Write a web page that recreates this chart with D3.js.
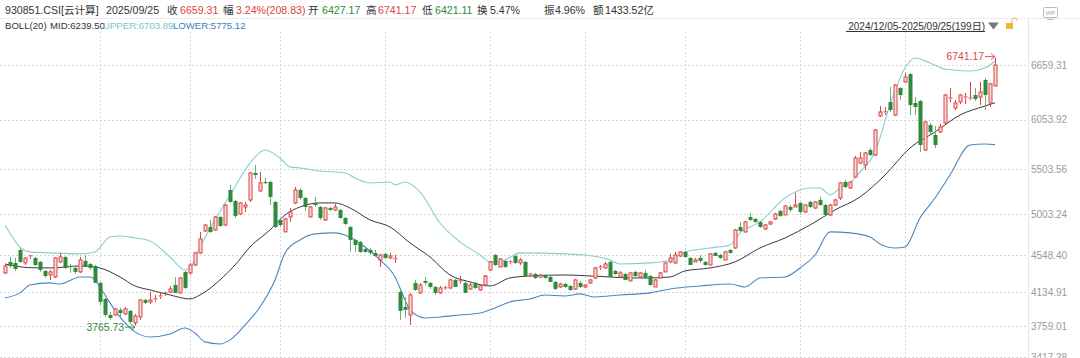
<!DOCTYPE html>
<html><head><meta charset="utf-8">
<script src="https://cdn.jsdelivr.net/npm/d3@7"></script>
<style>
body{margin:0;background:#fff;}
svg{display:block;font-family:"Liberation Sans","Helvetica Neue",Arial,"Noto Sans CJK SC",sans-serif;}
</style></head>
<body><svg id="c" width="1080" height="358"></svg>
<script>
// ---------- data ----------
const opens = [4351,4473,4462,4606,4462,4528,4517,4473,4373,4328,
4306,4473,4528,4428,4406,4362,4484,4450,4428,4240,
4062,3884,3884,3940,3895,3929,3796,3862,4051,4029,
4051,4084,4118,4140,4217,4129,4362,4351,4439,4573,
4817,4861,4828,4972,4883,5272,5150,5006,5083,5161,
5461,5261,5361,5361,5139,4939,4806,4972,5128,5272,
5183,4972,5128,5083,4939,5072,5050,5050,4961,4861,
4717,4695,4617,4606,4573,4495,4562,4517,4495,4140,
3973,3884,4240,4129,4262,4240,4195,4129,4173,4184,
4273,4251,4240,4173,4240,4162,4217,4384,4550,4417,
4484,4462,4539,4462,4473,4328,4339,4306,4328,4306,
4251,4195,4228,4206,4173,4240,4195,4240,4295,4406,
4406,4473,4373,4306,4339,4262,4362,4306,4351,4317,
4195,4295,4362,4473,4462,4539,4584,4517,4473,4517,
4473,4439,4573,4550,4495,4606,4628,4861,4806,4972,
4950,4917,4839,4894,4950,5039,4994,5083,5083,5128,
5028,5139,5072,5161,5105,4994,5105,5183,5361,5294,
5416,5572,5549,5716,5660,6093,6127,6249,6104,6404,
6471,6559,6238,6260,5716,5993,5882,5916,6016,6282,
6182,6249,6293,6282,6326,6304,6493,6238,6427.17];
const highs = [4450,4528,4517,4628,4528,4550,4528,4484,4384,4384,
4528,4573,4539,4450,4417,4528,4550,4462,4439,4251,
4073,3918,3962,3962,3973,3940,3895,4062,4062,4140,
4106,4129,4140,4206,4306,4306,4373,4462,4584,4806,
4894,4939,4983,4983,5116,5327,5161,5139,5139,5472,
5549,5472,5405,5372,5150,4961,4961,5072,5305,5294,
5194,5094,5194,5094,5083,5083,5116,5061,4972,4872,
4728,4706,4628,4628,4606,4562,4573,4573,4550,4162,
4084,4129,4273,4240,4306,4251,4206,4206,4206,4284,
4284,4317,4251,4240,4251,4228,4328,4484,4562,4517,
4495,4495,4550,4517,4484,4351,4351,4339,4339,4317,
4262,4240,4240,4217,4284,4262,4228,4284,4417,4439,
4473,4484,4384,4373,4351,4362,4373,4362,4384,4328,
4284,4362,4473,4562,4584,4595,4595,4528,4517,4550,
4484,4573,4584,4562,4595,4617,4839,4917,4928,5017,
4961,4928,4894,4928,5017,5050,5105,5105,5239,5139,
5116,5150,5150,5194,5116,5116,5172,5361,5383,5372,
5649,5694,5694,5738,5949,6204,6193,6415,6448,6415,
6570,6570,6304,6271,6038,6016,5982,6004,6337,6404,
6271,6337,6349,6471,6404,6471,6515,6460,6741.17];
const lows = [4339,4406,4373,4462,4439,4506,4428,4362,4295,4273,
4295,4462,4395,4351,4339,4351,4417,4384,4240,3995,
3862,3829,3873,3862,3884,3785,3765.73,3829,4006,4006,
4029,4062,4095,4129,4129,4118,4173,4328,4428,4562,
4806,4795,4817,4861,4872,5128,4961,4994,5028,5139,
5394,5250,5338,5105,4850,4861,4806,4917,5116,5161,
5039,4972,5083,4939,4928,5039,5039,4950,4883,4584,
4584,4573,4573,4550,4528,4417,4506,4506,4462,3829,
3851,3773,4151,4118,4217,4173,4106,4118,4162,4173,
4195,4228,4129,4162,4173,4151,4206,4373,4428,4417,
4406,4450,4450,4439,4317,4306,4284,4295,4284,4251,
4162,4184,4184,4151,4162,4184,4184,4228,4284,4384,
4395,4295,4328,4295,4273,4262,4306,4295,4284,4206,
4195,4295,4362,4462,4450,4528,4517,4439,4473,4462,
4428,4439,4539,4506,4495,4562,4617,4806,4795,4928,
4906,4850,4828,4883,4939,4972,4994,5028,5083,5006,
5017,5072,5061,5094,4983,4983,5094,5161,5294,5283,
5405,5561,5494,5649,5649,6082,6104,6138,6093,6271,
6460,6104,6104,5694,5705,5893,5738,5905,6004,6249,
6160,6226,6226,6271,6260,6215,6160,6193,6421.11];
const closes = [4428,4428,4395,4473,4517,4539,4439,4384,4317,4362,
4517,4528,4406,4417,4362,4495,4417,4406,4240,4029,
3884,3851,3951,3906,3951,3807,3873,4051,4018,4051,
4062,4095,4129,4173,4129,4295,4184,4439,4573,4728,
4883,4806,4972,4872,5105,5139,4983,5128,5105,5461,
5438,5350,5350,5194,4861,4883,4950,5028,5272,5183,
5083,5083,5105,4961,5072,5050,5083,4961,4894,4717,
4661,4584,4584,4573,4539,4550,4517,4539,4506,3929,
3940,4106,4162,4217,4240,4195,4129,4184,4184,4273,
4195,4262,4129,4217,4184,4206,4317,4473,4439,4506,
4417,4473,4462,4495,4317,4339,4295,4328,4295,4251,
4173,4228,4195,4162,4273,4195,4217,4273,4406,4417,
4450,4306,4339,4351,4273,4351,4317,4351,4295,4217,
4273,4351,4462,4517,4550,4584,4528,4439,4495,4484,
4439,4562,4539,4517,4584,4573,4828,4817,4917,4939,
4917,4861,4883,4917,5006,4983,5094,5050,5105,5028,
5105,5083,5139,5105,4994,5105,5161,5350,5305,5361,
5627,5627,5683,5660,5938,6138,6138,6160,6437,6326,
6526,6215,6193,5771,6027,5916,5771,5971,6326,6293,
6238,6326,6304,6293,6282,6360,6326,6450.48,6659.31];

// Bollinger band readings (candle index, value)
const midIdx = [0,5,9,15,18,19,23,26,29,33,37,39,43,46,49,53,56,59,63,66,69,73,77,81,85,89,93,97,101,105,112,117,121,125,129,133,136,141,146,151,156,161,166,171,176,181,186,191,196,198];
const midVal = [4450,4409,4406,4428,4417,4406,4306,4206,4162,4106,4062,4106,4273,4439,4639,4828,4994,5083,5128,5128,5072,4939,4861,4684,4528,4328,4251,4206,4295,4317,4328,4317,4306,4295,4295,4306,4373,4406,4473,4628,4739,4883,5050,5194,5438,5738,5916,6104,6204,6239.5];
const upperIdx = [0,3,5,9,15,18,21,23,26,29,33,36,37,39,42,45,49,52,55,57,59,63,68,70,73,77,78,80,83,87,91,95,97,100,103,112,116,121,123,129,133,136,141,145,147,151,156,161,163,165,167,169,171,174,177,180,182,185,188,193,196,198];
const upperVal = [4883,4639,4584,4573,4562,4584,4750,4761,4739,4706,4528,4384,4406,4639,4939,5216,5571,5716,5627,5527,5516,5483,5461,5405,5350,5361,5327,5361,5250,4905,4695,4550,4473,4495,4573,4562,4550,4495,4450,4462,4495,4584,4628,4661,4795,4917,5183,5294,5294,5216,5294,5350,5472,5694,6215,6626,6737,6682,6615,6593,6626,6703.89];
const lowerIdx = [0,3,5,9,11,15,17,18,19,21,23,26,29,33,36,38,40,43,45,48,51,54,56,59,62,66,68,72,75,78,80,81,84,87,91,95,98,101,105,108,112,115,118,123,129,133,139,145,148,151,156,159,162,165,169,173,175,178,180,183,186,189,193,196,198];
const lowerVal = [4073,4129,4217,4240,4228,4306,4306,4273,4195,4018,3862,3696,3640,3673,3740,3684,3585,3562,3607,3773,3973,4273,4573,4717,4784,4795,4772,4639,4495,4306,4051,3940,3851,3862,3884,3906,3962,4029,4062,4106,4095,4118,4084,4106,4129,4173,4206,4228,4195,4295,4306,4406,4550,4806,4795,4750,4672,4628,4639,4961,5183,5438,5771,5782,5775.12];

const yTicks = [6659.31,6053.92,5503.56,5003.24,4548.40,4134.91,3759.01,3417.28];
const yTickLabels = ["6659.31","6053.92","5503.56","5003.24","4548.40","4134.91","3759.01","3417.28"];
const monthStartIdx = [19,37,55,76,97,116,136,159,180];

const headerItems = [
 ["930851.CSI[云计算]","t"],["2025/09/25","t"],["收","t"],["6659.31","r"],["幅","t"],["3.24%(208.83)","r"],
 ["开","t"],["6427.17","g"],["高","t"],["6741.17","r"],["低","t"],["6421.11","g"],["换","t"],["5.47%","t"],
 ["振","t"],["4.96%","t"],["额","t"],["1433.52亿","t"]];
const headerX = [5,106,167,180,223,236,308,322,366,378,422,435,477,490,544,555,593,605];
const bollItems = [["BOLL(20)","t"],["MID:6239.50","t"],["UPPER:6703.89","u"],["LOWER:5775.12","l"]];
const bollX = [5,50,103,173];
const rangeLabel = "2024/12/05-2025/09/25(199日)";
const lowLabel = "3765.73", highLabel = "6741.17";

// ---------- drawing ----------
const RED="#dd4444", GREEN="#2f8a3c", TXT="#333", UPC="#86cdd0", LOC="#4a87c0";
const colorOf = {t:TXT, r:RED, g:GREEN, u:"#7cc4c8", l:"#3d7db9"};
const svg = d3.select("#c");
const x = d3.scaleLinear().domain([0,198]).range([5,995]);
const y = d3.scaleLinear().domain([3417.28,6659.31]).range([357,65]);
const plotRight = 1028, plotTop = 32;

// header
svg.append("line").attr("x1",0).attr("x2",1080).attr("y1",18.5).attr("y2",18.5).attr("stroke","#ececec");
svg.selectAll("text.h").data(headerItems).join("text").attr("class","h")
  .attr("x",(d,i)=>headerX[i]).attr("y",14).attr("font-size",10.6)
  .attr("fill",d=>colorOf[d[1]]).text(d=>d[0]);
svg.selectAll("text.b").data(bollItems).join("text").attr("class","b")
  .attr("x",(d,i)=>bollX[i]).attr("y",29).attr("font-size",9.6)
  .attr("fill",d=>colorOf[d[1]]).text(d=>d[0]);
// range text + controls
const rt = svg.append("text").attr("x",985).attr("y",29.5).attr("text-anchor","end")
  .attr("font-size",10).attr("fill",TXT).text(rangeLabel);
svg.append("line").attr("x1",846).attr("x2",985).attr("y1",31.5).attr("y2",31.5).attr("stroke","#333");
svg.append("path").attr("d","M988,22.5 L999,22.5 L993.5,29.5 Z").attr("fill","#777");
svg.append("rect").attr("x",1006).attr("y",23).attr("width",7).attr("height",6).attr("fill","#f0b43c");
svg.append("path").attr("d","M1012,23 L1012,20.5 A2.5,2.5 0 0 1 1017,20.5").attr("fill","none").attr("stroke","#f0b43c");
svg.append("rect").attr("x",1043.5).attr("y",7.5).attr("width",14).attr("height",10).attr("rx",1).attr("fill","none").attr("stroke","#bbb");
svg.append("text").attr("x",1050.5).attr("y",15).attr("text-anchor","middle").attr("font-size",6).attr("fill","#aaa").text("WP");
svg.append("line").attr("x1",1047).attr("x2",1054).attr("y1",19.5).attr("y2",19.5).attr("stroke","#bbb");

// grid
const grid = svg.append("g").attr("stroke","#d8d8d8").attr("stroke-dasharray","2,2");
grid.selectAll("line.hy").data(yTicks).join("line").attr("class","hy")
  .attr("x1",0).attr("x2",plotRight).attr("y1",d=>Math.round(y(d))+0.5).attr("y2",d=>Math.round(y(d))+0.5);
grid.selectAll("line.vx").data(monthStartIdx).join("line").attr("class","vx")
  .attr("x1",d=>Math.round(x(d))+0.5).attr("x2",d=>Math.round(x(d))+0.5).attr("y1",plotTop).attr("y2",358);
svg.append("line").attr("x1",plotRight+0.5).attr("x2",plotRight+0.5).attr("y1",19).attr("y2",358).attr("stroke","#e6e6e6");

// right axis
const ax = svg.append("g").attr("transform",`translate(${plotRight+3},0)`)
  .call(d3.axisRight(y).tickValues(yTicks).tickSize(0).tickPadding(0).tickFormat((d,i)=>yTickLabels[i]));
ax.select(".domain").remove();
ax.selectAll("text").attr("font-size",10).attr("fill","#9a9a9a").attr("font-family","Liberation Sans, Arial, sans-serif");

// bands
const bandLine = (idx,val,color,w)=>{
  const pts = idx.map((d,i)=>[d,val[i]]);
  svg.append("path").datum(pts).attr("fill","none").attr("stroke",color).attr("stroke-width",w)
    .attr("d",d3.line().x(d=>x(d[0])).y(d=>y(d[1])).curve(d3.curveMonotoneX));
};
bandLine(upperIdx,upperVal,UPC,1.1);
bandLine(lowerIdx,lowerVal,LOC,1.1);
bandLine(midIdx,midVal,"#3a3a3a",1);

// candles
const candles = d3.range(opens.length).map(i=>({i,o:opens[i],h:highs[i],l:lows[i],c:closes[i]}));
const cg = svg.append("g");
candles.forEach(d=>{
  const up = d.c >= d.o;
  const cx = Math.round(x(d.i))+0.5;
  const top = y(Math.max(d.o,d.c)), bot = y(Math.min(d.o,d.c));
  if(up){
    cg.append("line").attr("x1",cx).attr("x2",cx).attr("y1",y(d.h)).attr("y2",top).attr("stroke",RED);
    cg.append("line").attr("x1",cx).attr("x2",cx).attr("y1",bot).attr("y2",y(d.l)).attr("stroke",RED);
    const hgt = Math.max(bot-top,1);
    if(bot-top < 1.5){
      cg.append("line").attr("x1",cx-2).attr("x2",cx+2).attr("y1",top).attr("y2",top).attr("stroke",RED);
    } else {
      cg.append("rect").attr("x",cx-1.5).attr("y",top).attr("width",3).attr("height",hgt)
        .attr("fill","#f7dada").attr("stroke",RED).attr("stroke-width",1);
    }
  } else {
    cg.append("line").attr("x1",cx).attr("x2",cx).attr("y1",y(d.h)).attr("y2",y(d.l)).attr("stroke","#6fae77");
    cg.append("rect").attr("x",cx-2).attr("y",top).attr("width",4).attr("height",Math.max(bot-top,1.2))
      .attr("fill",GREEN);
  }
});

// extreme annotations
const lowI = lows.indexOf(d3.min(lows)), highI = highs.indexOf(d3.max(highs));
const arrow = (ex,ey,col)=>{
  svg.append("path").attr("d",`M${ex-10},${ey} L${ex},${ey} M${ex-4},${ey-3} L${ex},${ey} L${ex-4},${ey+3}`)
    .attr("fill","none").attr("stroke",col).attr("stroke-width",0.9);
};
const lx = x(lowI), ly = y(lows[lowI])+1.5;
arrow(lx, ly, GREEN);
svg.append("text").attr("x",lx-11).attr("y",ly+3.5).attr("text-anchor","end").attr("font-size",10.4).attr("fill",GREEN).text(lowLabel);
const hx = x(highI), hy = y(highs[highI])-1;
arrow(hx, hy, RED);
svg.append("text").attr("x",hx-11).attr("y",hy+3.5).attr("text-anchor","end").attr("font-size",10.4).attr("fill",RED).text(highLabel);
</script></body></html>
